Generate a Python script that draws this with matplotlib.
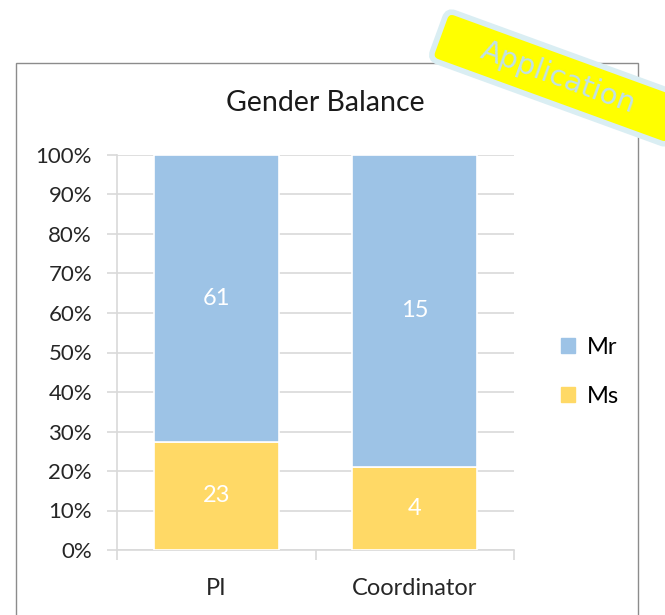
import numpy as np
import matplotlib
matplotlib.use('Agg')
import matplotlib.pyplot as plt
import matplotlib.patches as mpatches
import matplotlib.transforms as mtransforms

plt.rcParams['font.family'] = ['Lato', 'DejaVu Sans']

# data
categories = ['PI', 'Coordinator']
ms_counts = np.array([23, 4])
mr_counts = np.array([61, 15])
yticks = np.arange(0, 101, 10)

totals = ms_counts + mr_counts
ms_pct = ms_counts / totals * 100
mr_pct = mr_counts / totals * 100

col_mr = '#9DC3E6'
col_ms = '#FFD966'
grid_col = '#D9D9D9'
txt_col = '#262626'

fig = plt.figure(figsize=(6.65, 6.15), dpi=100)
ax = fig.add_axes([117/665, 1 - 550/615, (514 - 117)/665, (550 - 155)/615])

x = np.arange(len(categories))
b_ms = ax.bar(x, ms_pct, width=0.63, color=col_ms, edgecolor='white', linewidth=1.2, label='Ms', zorder=3)
b_mr = ax.bar(x, mr_pct, width=0.63, bottom=ms_pct, color=col_mr, edgecolor='white', linewidth=1.2, label='Mr', zorder=3)

ax.bar_label(b_ms, labels=[str(v) for v in ms_counts], label_type='center', color='white', fontsize=17)
ax.bar_label(b_mr, labels=[str(v) for v in mr_counts], label_type='center', color='white', fontsize=17)

ax.set_xlim(-0.5, 1.5)
ax.set_ylim(0, 100)
ax.set_yticks(yticks)
ax.set_yticklabels([f'{v}%' for v in yticks], fontsize=16, color=txt_col)
ax.yaxis.grid(True, color=grid_col, linewidth=1.2, zorder=0)
ax.tick_params(axis='y', length=7, width=1.2, color=grid_col, pad=11)

ax.set_xticks(x)
ax.set_xticklabels(categories, fontsize=17, color=txt_col)
ax.tick_params(axis='x', which='major', length=0, pad=20)
ax.set_xticks([-0.5, 0.5, 1.5], minor=True)
ax.tick_params(axis='x', which='minor', length=7, width=1.2, color=grid_col)

for s in ['top', 'right']:
    ax.spines[s].set_visible(False)
for s in ['left', 'bottom']:
    ax.spines[s].set_color(grid_col)
    ax.spines[s].set_linewidth(1.2)

fig.text(325/665, 1 - 103/615, 'Gender Balance', fontsize=20.5, color='#1a1a1a',
         ha='center', va='center')

handles = [mpatches.Patch(color=col_mr), mpatches.Patch(color=col_ms)]
fig.legend(handles, ['Mr', 'Ms'], loc='center left', bbox_to_anchor=(540/665, 1 - 372/615),
           frameon=False, fontsize=17, handlelength=0.6, handleheight=0.6,
           handletextpad=0.5, labelspacing=1.2)

# outer chart frame
frame = mpatches.Rectangle((16/665, -0.05), (638 - 16)/665, 1.05 - 63/615,
                           transform=fig.transFigure, fill=False, edgecolor='#8c8c8c', linewidth=1.0)
fig.patches.append(frame)

# rotated "Application" badge
cx, cy = 5.58, 6.15 - 0.78
rot = mtransforms.Affine2D().rotate_deg_around(cx, cy, -20) + fig.dpi_scale_trans
badge = mpatches.FancyBboxPatch((cx - 1.27, cy - 0.26), 2.54, 0.52,
                                boxstyle='round,pad=0,rounding_size=0.08',
                                facecolor='#FFFF00', edgecolor='#DAEEF3', linewidth=4,
                                transform=rot, zorder=10)
fig.patches.append(badge)
fig.text(cx / 6.65, cy / 6.15, 'Application', rotation=-20, rotation_mode='anchor',
         ha='center', va='center', fontsize=21, color='#BFE0EA', family='DejaVu Sans', zorder=11)

fig.savefig('out.png', dpi=100)
